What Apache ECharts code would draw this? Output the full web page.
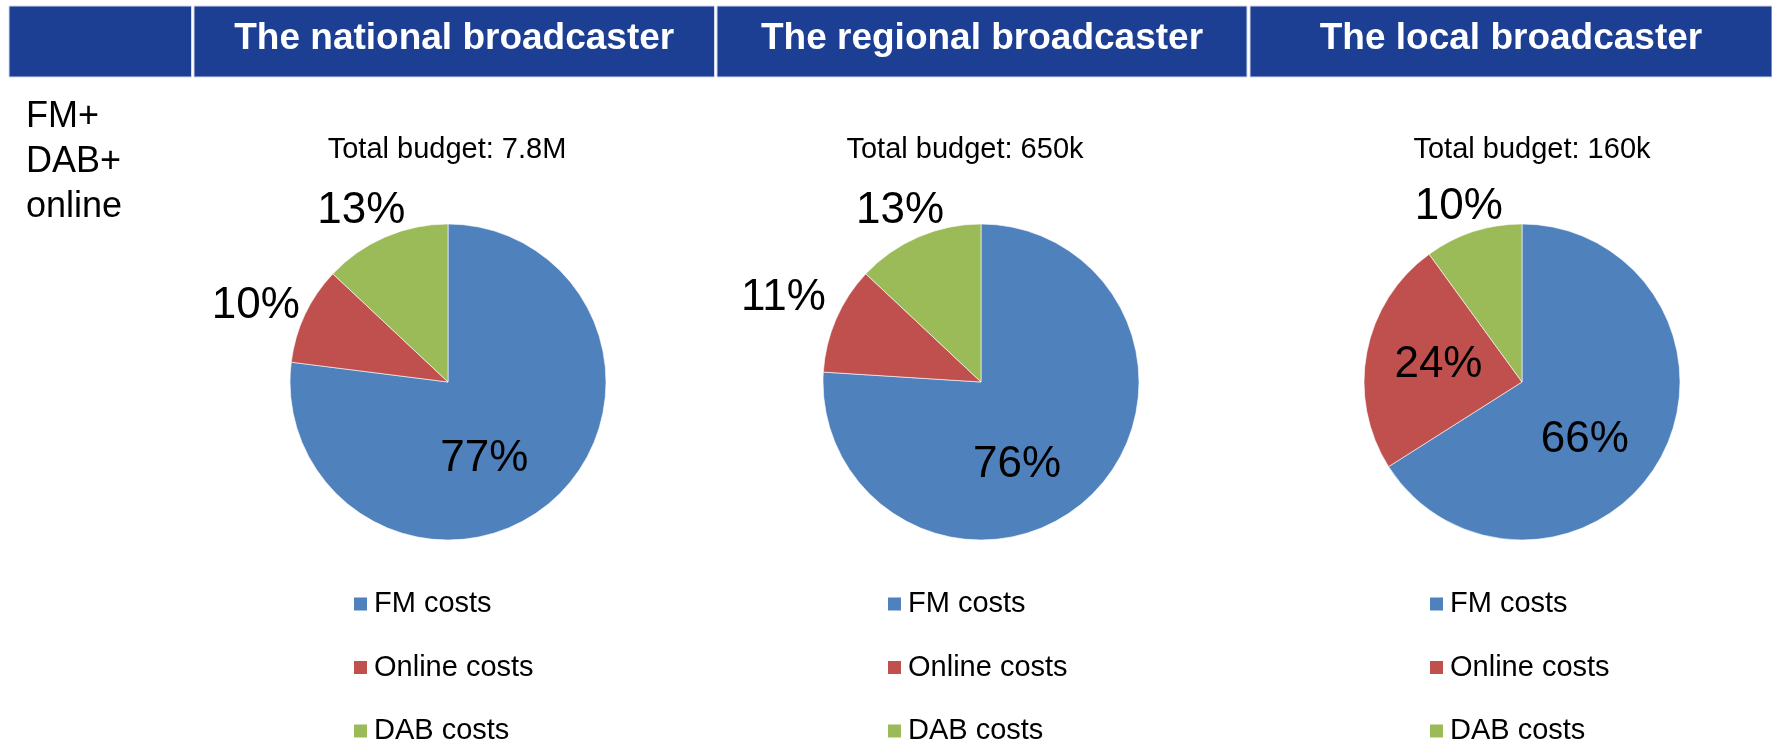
<!DOCTYPE html>
<html><head><meta charset="utf-8">
<script src="https://cdn.jsdelivr.net/npm/echarts@6/dist/echarts.min.js"></script>
<style>html,body{margin:0;padding:0;background:#fff}#c{width:1772px;height:743px}</style>
</head><body><div id="c"></div>
<script>
// ---- data ----
const categories = ['FM costs', 'Online costs', 'DAB costs'];
const broadcasters = ['The national broadcaster', 'The regional broadcaster', 'The local broadcaster'];
const budgets = ['Total budget: 7.8M', 'Total budget: 650k', 'Total budget: 160k'];
const nationalShares = [77, 10, 13];
const regionalShares = [76, 11, 13];
const localShares = [66, 24, 10];
const rowLabel = ['FM+', 'DAB+', 'online'];

// ---- style / layout ----
const colors = ['#4F81BD', '#C0504D', '#9BBB59'];
const FONT = '"Liberation Sans", Arial, sans-serif';
const pieCenters = [448, 981, 1522];
const pieCY = 382, pieR = 158;
const headerBoxes = [[9, 191.5], [194, 714.5], [717, 1247], [1250, 1772]];
const budgetX = [447, 965, 1532];
const legendX = [352, 886, 1428];
const outsideLen = [[null, 50, 35], [null, 59, 33], [null, null, 30]];
const nudges = [[[-18, 15], [-4, 12], [-10, 6]], [[-20, 23], [0, 2], [-5, 4]], [[-9, 18], [-3, -2], [-5, 4]]];

const shares = [nationalShares, regionalShares, localShares];

const series = shares.map((vals, s) => ({
  type: 'pie',
  center: [pieCenters[s], pieCY],
  radius: pieR,
  startAngle: 90,
  clockwise: true,
  avoidLabelOverlap: false,
  silent: true,
  emphasis: { disabled: true },
  itemStyle: { borderColor: '#ffffff', borderWidth: 0.6 },
  label: { show: true, formatter: '{d}%', fontSize: 44, fontFamily: FONT, color: '#000' },
  labelLine: { show: false },
  data: vals.map((v, i) => {
    const item = { name: categories[i], value: v, itemStyle: { color: colors[i] } };
    if (outsideLen[s][i] != null) {
      item.label = { position: 'outside', distanceToLabelLine: -44 };
      item.labelLine = { show: false, length: outsideLen[s][i], length2: 0 };
    } else {
      item.label = { position: 'inside' };
    }
    return item;
  }),
  labelLayout: (p) => {
    const n = nudges[s][p.dataIndex];
    return {
      x: p.labelRect.x + p.labelRect.width / 2 + n[0],
      y: p.labelRect.y + p.labelRect.height / 2 + n[1],
      align: 'center', verticalAlign: 'middle'
    };
  }
}));

const legends = legendX.map(x => ({
  orient: 'vertical', left: x, top: 589, height: 400, padding: 0,
  itemWidth: 15, itemHeight: 15, itemGap: 33.5, icon: 'rect',
  selectedMode: false, data: categories,
  textStyle: { fontSize: 29, lineHeight: 30, fontFamily: FONT, color: '#000', padding: [0, 0, 0, 1] }
}));

const graphics = [];
headerBoxes.forEach(b => graphics.push({
  type: 'rect', silent: true,
  shape: { x: b[0], y: 6, width: b[1] - b[0], height: 71 },
  style: { fill: '#1C3F94', stroke: '#D3DAEE', lineWidth: 1 }
}));
broadcasters.forEach((t, i) => {
  const b = headerBoxes[i + 1];
  graphics.push({
    type: 'text', silent: true, x: (b[0] + b[1]) / 2, y: 39,
    style: { text: t, font: 'bold 37px ' + FONT, fill: '#fff', align: 'center', verticalAlign: 'middle' }
  });
});
graphics.push({
  type: 'text', silent: true, x: 26, y: 95,
  style: { text: rowLabel.join('\n'), font: '36px ' + FONT, lineHeight: 45, fill: '#000', align: 'left', verticalAlign: 'top' }
});
budgets.forEach((t, i) => graphics.push({
  type: 'text', silent: true, x: budgetX[i], y: 150,
  style: { text: t, font: '29px ' + FONT, fill: '#000', align: 'center', verticalAlign: 'middle' }
}));

const chart = echarts.init(document.getElementById('c'), null, { renderer: 'canvas' });
chart.setOption({
  backgroundColor: '#ffffff',
  animation: false,
  legend: legends,
  graphic: graphics,
  series: series
});
</script>
</body></html>
